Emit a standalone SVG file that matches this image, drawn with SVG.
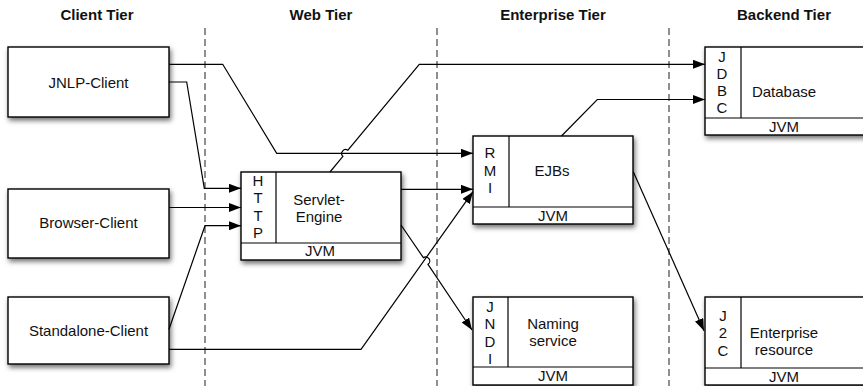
<svg xmlns="http://www.w3.org/2000/svg" width="863" height="386" viewBox="0 0 863 386">
<defs>
<filter id="sh" x="-10%" y="-10%" width="125%" height="135%">
<feDropShadow dx="1.5" dy="3" stdDeviation="2.5" flood-color="#000" flood-opacity="0.55"/>
</filter>
<marker id="ah" viewBox="0 0 12 9" refX="12" refY="4.5" markerWidth="12" markerHeight="9" markerUnits="userSpaceOnUse" orient="auto">
<path d="M0,0 L12,4.5 L0,9 Z" fill="#000"/>
</marker>
<style>
text{font-family:"Liberation Sans",Helvetica,Arial,sans-serif;font-size:15px;fill:#111;text-anchor:middle}
.title{font-weight:bold}
.box{fill:#fff;stroke:#000;stroke-width:1.4}
.in{fill:none;stroke:#000;stroke-width:1.2}
.tier{stroke:#333;stroke-width:1.1;stroke-dasharray:7,4;fill:none}
.c{fill:none;stroke:#000;stroke-width:1.2}
.a{marker-end:url(#ah)}
</style>
</defs>
<rect width="863" height="386" fill="#fff"/>
<g id="tiers">
<text class="title" x="97" y="20">Client Tier</text>
<text class="title" x="321" y="20">Web Tier</text>
<text class="title" x="553" y="20">Enterprise Tier</text>
<text class="title" x="784" y="20">Backend Tier</text>
<line class="tier" x1="205" y1="28" x2="205" y2="386"/>
<line class="tier" x1="437" y1="28" x2="437" y2="386"/>
<line class="tier" x1="669" y1="28" x2="669" y2="386"/>
</g>
<g id="jnlp">
<rect class="box" filter="url(#sh)" x="8" y="47" width="161" height="70"/>
<text x="88.5" y="87.5">JNLP-Client</text>
</g>
<g id="browser">
<rect class="box" filter="url(#sh)" x="8" y="189" width="161" height="69"/>
<text x="88.5" y="228">Browser-Client</text>
</g>
<g id="standalone">
<rect class="box" filter="url(#sh)" x="8" y="297" width="161" height="67"/>
<text x="88.5" y="335.5">Standalone-Client</text>
</g>
<g id="servlet">
<rect class="box" filter="url(#sh)" x="241" y="172" width="160" height="88"/>
<line class="in" x1="276" y1="172" x2="276" y2="243"/>
<line class="in" x1="241" y1="243" x2="401" y2="243"/>
<text x="258" y="186">H</text>
<text x="258" y="203">T</text>
<text x="258" y="220.5">T</text>
<text x="258" y="237.5">P</text>
<text x="319" y="204.5">Servlet-</text>
<text x="319" y="221.5">Engine</text>
<text x="320" y="256">JVM</text>
</g>
<g id="ejb">
<rect class="box" filter="url(#sh)" x="473" y="136" width="160" height="88"/>
<line class="in" x1="509" y1="136" x2="509" y2="207"/>
<line class="in" x1="473" y1="207" x2="633" y2="207"/>
<text x="490" y="158">R</text>
<text x="490" y="175.5">M</text>
<text x="490" y="193">I</text>
<text x="552" y="176">EJBs</text>
<text x="553" y="221">JVM</text>
</g>
<g id="naming">
<rect class="box" filter="url(#sh)" x="473" y="297" width="160" height="88"/>
<line class="in" x1="508" y1="297" x2="508" y2="367"/>
<line class="in" x1="473" y1="367" x2="633" y2="367"/>
<text x="490" y="311.5">J</text>
<text x="490" y="329">N</text>
<text x="490" y="346.5">D</text>
<text x="490" y="363.5">I</text>
<text x="553" y="328.5">Naming</text>
<text x="553" y="345.5">service</text>
<text x="553" y="381">JVM</text>
</g>
<g id="database">
<rect class="box" filter="url(#sh)" x="705" y="47" width="162" height="88"/>
<line class="in" x1="741" y1="47" x2="741" y2="118"/>
<line class="in" x1="705" y1="118" x2="867" y2="118"/>
<text x="722" y="61.5">J</text>
<text x="722" y="78.5">D</text>
<text x="722" y="96">B</text>
<text x="722" y="113">C</text>
<text x="784" y="96.5">Database</text>
<text x="784" y="131.5">JVM</text>
</g>
<g id="enterprise">
<rect class="box" filter="url(#sh)" x="705" y="297" width="162" height="88"/>
<line class="in" x1="741" y1="297" x2="741" y2="368"/>
<line class="in" x1="705" y1="368" x2="867" y2="368"/>
<text x="723" y="320.5">J</text>
<text x="723" y="338">2</text>
<text x="723" y="355.5">C</text>
<text x="784" y="338">Enterprise</text>
<text x="784" y="355">resource</text>
<text x="784" y="381.5">JVM</text>
</g>
<g id="connectors">
<path class="c a" d="M169,64.3 L222.7,64.3 L276.7,153.3 L473,153.3"/>
<path class="c a" d="M169,82 L186.7,82 L204.3,188.3 L241,188.3"/>
<path class="c a" d="M169,207.5 L241,207.5"/>
<path class="c a" d="M169,329.3 L205,225.7 L241,225.7"/>
<path class="c a" d="M330,172 L342.9,156.4 A4,4 0 0 1 347.9,150.2 L419.3,64.3 L705,64.3"/>
<path class="c a" d="M401,189.3 L473,189.3"/>
<path class="c a" d="M169,349.3 L361,349.3 L473,191.7"/>
<path class="c a" d="M401,225 L423.4,257.7 A4,4 0 0 1 428,264.3 L472,330"/>
<path class="c a" d="M561.5,136 L597.3,99.5 L705,99.5"/>
<path class="c a" d="M633.3,171.7 L704,330.7"/>
</g>
</svg>
